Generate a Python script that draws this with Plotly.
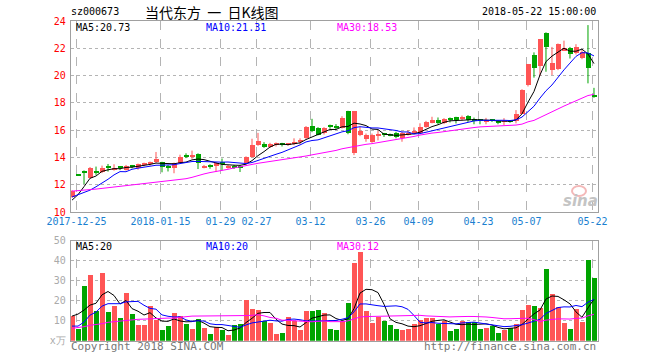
import plotly.graph_objects as go
import pandas as pd

# ---------------- data ----------------
opens = [11.12, 12.68, 13.00, 12.52, 12.95, 12.96, 13.27, 13.13, 13.27, 13.08,
         13.37, 13.25, 13.45, 13.52, 13.64, 13.64, 13.30, 13.25, 13.62, 14.12,
         14.08, 14.24, 13.25, 13.37, 13.34, 13.60, 13.22, 13.32, 13.30, 13.59,
         14.02, 14.88, 15.00, 14.80, 14.92, 15.00, 14.95, 14.95, 15.10, 15.41,
         16.27, 16.17, 15.78, 16.30, 16.26, 16.17, 17.39, 14.34, 15.63, 15.34,
         15.15, 15.60, 15.70, 15.66, 15.76, 15.46, 15.65, 15.85, 15.76, 16.24,
         16.56, 16.73, 16.49, 16.82, 16.93, 16.85, 17.02, 16.72, 16.72, 16.66,
         16.74, 16.66, 16.60, 16.66, 16.66, 17.22, 19.30, 21.50, 20.73, 23.15,
         20.40, 20.46, 21.83, 22.05, 21.63, 21.26, 21.63, 18.50]
highs = [11.60, 12.68, 13.05, 13.30, 13.33, 13.40, 13.52, 13.50, 13.37, 13.45,
         13.45, 13.55, 13.62, 13.70, 14.40, 13.68, 13.45, 13.62, 14.20, 14.30,
         14.50, 14.30, 13.45, 13.50, 13.64, 13.92, 13.45, 13.45, 13.45, 14.08,
         15.37, 15.80, 15.12, 15.07, 15.10, 15.07, 15.05, 15.40, 15.40, 16.30,
         16.83, 16.22, 16.22, 16.41, 16.44, 17.02, 17.42, 17.40, 16.24, 15.75,
         15.75, 15.95, 15.80, 15.75, 15.88, 15.88, 16.00, 16.20, 16.50, 16.68,
         16.98, 16.93, 16.88, 16.93, 16.98, 17.07, 17.10, 16.92, 16.80, 16.90,
         16.80, 16.73, 16.88, 16.73, 17.47, 19.00, 20.85, 21.70, 22.66, 23.17,
         22.10, 22.35, 22.56, 22.10, 22.30, 21.87, 23.70, 19.10]
lows = [11.05, 12.68, 12.05, 12.45, 12.72, 12.85, 12.96, 13.03, 13.07, 13.04,
        13.20, 13.10, 13.35, 13.40, 13.60, 12.91, 12.97, 12.84, 13.60, 13.95,
        13.90, 13.15, 13.20, 13.17, 12.93, 13.05, 13.17, 13.15, 12.93, 13.50,
        13.98, 14.85, 14.70, 14.70, 14.80, 14.80, 14.85, 14.90, 14.95, 15.36,
        15.85, 15.62, 15.68, 16.10, 16.05, 16.12, 15.70, 14.17, 15.56, 15.15,
        15.07, 15.25, 15.50, 15.55, 15.40, 15.15, 15.60, 15.75, 15.70, 16.17,
        16.50, 16.42, 16.44, 16.56, 16.49, 16.70, 16.60, 16.43, 16.43, 16.43,
        16.60, 16.43, 16.38, 16.54, 16.50, 17.20, 19.20, 19.85, 19.99, 20.28,
        20.04, 20.40, 21.80, 21.25, 21.55, 21.20, 19.43, 18.37]
closes = [11.53, 12.68, 12.83, 13.24, 12.91, 13.24, 13.24, 13.25, 13.23, 13.37,
          13.33, 13.50, 13.57, 13.67, 13.86, 13.30, 13.27, 13.57, 14.06, 14.08,
          14.12, 13.58, 13.36, 13.33, 13.60, 13.57, 13.37, 13.29, 13.27, 14.02,
          14.88, 15.20, 14.76, 14.95, 15.00, 14.97, 15.00, 15.12, 15.25, 16.22,
          15.93, 15.68, 16.17, 16.25, 16.22, 16.90, 15.80, 17.39, 15.95, 15.63,
          15.63, 15.65, 15.66, 15.63, 15.51, 15.80, 15.82, 15.90, 16.24, 16.61,
          16.73, 16.49, 16.80, 16.78, 16.73, 16.90, 16.78, 16.68, 16.68, 16.75,
          16.70, 16.56, 16.66, 16.60, 17.22, 18.94, 20.82, 20.58, 22.66, 22.12,
          20.95, 22.30, 22.00, 21.56, 22.12, 21.70, 20.53, 18.48]
volumes = [12.7, 6.0, 27.3, 32.8, 14.8, 33.8, 14.3, 17.3, 11.5, 23.8,
           13.3, 7.8, 7.8, 17.3, 10.7, 5.3, 7.3, 13.8, 12.3, 8.5,
           5.8, 10.8, 6.5, 3.5, 6.8, 5.3, 2.8, 8.2, 8.7, 20.3,
           16.0, 15.3, 10.2, 8.8, 3.3, 4.0, 11.8, 9.8, 5.3, 14.8,
           14.8, 15.3, 13.8, 5.8, 5.7, 10.2, 19.2, 39.2, 44.7, 15.2,
           9.2, 12.0, 10.2, 8.2, 6.2, 5.7, 6.2, 8.7, 10.7, 11.7,
           11.3, 8.3, 10.2, 5.2, 6.2, 10.2, 9.7, 9.3, 6.2, 6.7,
           7.3, 3.8, 5.7, 6.7, 8.7, 15.7, 18.2, 17.7, 16.3, 36.2,
           23.3, 17.2, 9.2, 6.2, 16.2, 9.7, 40.5, 31.5]

# moving-average values before a full window exists
ma5_head = [10.87, 11.27, 11.86, 12.47]
ma10_head = [11.10, 11.25, 11.42, 11.60, 11.85, 12.10, 12.40, 12.72, 12.96]
ma30_head = [11.53, 11.56, 11.58, 11.60, 11.68, 11.73, 11.78, 11.85, 11.90, 11.93,
             11.98, 12.05, 12.10, 12.15, 12.20, 12.22, 12.27, 12.32, 12.40, 12.44,
             12.54, 12.69, 12.79, 12.89, 12.96, 13.03, 13.13, 13.23, 13.33]
vma5_head = [12.3, 13.3, 15.3, 17.8]
vma10_head = [7.3, 7.3, 9.3, 12.8, 14.3, 17.3, 18.5, 18.5, 18.5]
vma30_head = [6.2, 6.5, 7.0, 7.7, 8.0, 8.5, 9.2, 9.5, 9.8, 10.3,
              10.5, 10.7, 10.8, 11.0, 11.2, 11.2, 11.3, 11.3, 11.5, 12.0,
              12.3, 12.3, 12.3, 12.3, 12.3, 12.3, 12.3, 12.3, 12.3]

tick_idx = [1, 15, 25, 31, 40, 50, 58, 68, 76, 87]
tick_text = ['2017-12-25', '2018-01-15', '01-29', '02-27', '03-12',
             '03-26', '04-09', '04-23', '05-07', '05-22']
price_ticks = [10, 12, 14, 16, 18, 20, 22, 24]
vol_ticks = [0, 10, 20, 30, 40, 50]
vol_tick_text = ['x万', '10', '20', '30', '40', '50']

stock_code = 'sz000673'
chart_title = '当代东方\u00a0\u00a0一\u00a0\u00a0日K线图'
stamp = '2018-05-22 15:00:00'
ma_labels = ['MA5:20.73', 'MA10:21.31', 'MA30:18.53']
vma_labels = ['MA5:20', 'MA10:20', 'MA30:12']

# ---------------- styling ----------------
W, H = 660, 360
RED = '#ff5555'
GREEN = '#00a400'
MONO = 'DejaVu Sans Mono, Liberation Mono, monospace'
GRIDC = '#b4b4b4'
BORDER = '#a0a0a0'


def fx(p):
    return p / W


def fy(p):
    return 1 - p / H


def moving(values, n, head):
    s = pd.Series(values, dtype=float).rolling(n).mean()
    s.iloc[:n - 1] = head
    return s.tolist()


n = len(closes)
idx = list(range(n))
up = [c > o for o, c in zip(opens, closes)]
colors = [RED if u else GREEN for u in up]
body_base = [min(o, c) for o, c in zip(opens, closes)]
body_h = [max(abs(c - o), 0.07) for o, c in zip(opens, closes)]

fig = go.Figure()

# wicks
for want, col in ((True, RED), (False, GREEN)):
    wx, wy = [], []
    for i in idx:
        if up[i] == want:
            wx += [i, i, None]
            wy += [lows[i], highs[i], None]
    fig.add_trace(go.Scatter(x=wx, y=wy, mode='lines', line=dict(color=col, width=1),
                             xaxis='x', yaxis='y', hoverinfo='skip', showlegend=False))

# bodies
fig.add_trace(go.Bar(x=idx, y=body_h, base=body_base, width=0.85,
                     marker=dict(color=colors, line=dict(width=0)),
                     xaxis='x', yaxis='y', showlegend=False))

for vals, col in ((moving(closes, 5, ma5_head), 'black'),
                  (moving(closes, 10, ma10_head), '#0000ff'),
                  (moving(closes, 30, ma30_head), '#ff00ff')):
    fig.add_trace(go.Scatter(x=idx, y=vals, mode='lines', line=dict(color=col, width=1),
                             xaxis='x', yaxis='y', showlegend=False))

# volume
fig.add_trace(go.Bar(x=idx, y=volumes, width=0.85,
                     marker=dict(color=colors, line=dict(width=0)),
                     xaxis='x2', yaxis='y2', showlegend=False))
for vals, col in ((moving(volumes, 5, vma5_head), 'black'),
                  (moving(volumes, 10, vma10_head), '#0000ff'),
                  (moving(volumes, 30, vma30_head), '#ff00ff')):
    fig.add_trace(go.Scatter(x=idx, y=vals, mode='lines', line=dict(color=col, width=1),
                             xaxis='x2', yaxis='y2', showlegend=False))

xr = [-0.22, 87.62]
grid_x = [t - 0.25 for t in tick_idx]
xdom = [fx(70.7), fx(597.7)]
common_x = dict(range=xr, domain=xdom, tickmode='array', tickvals=grid_x,
                showgrid=True, gridcolor=GRIDC, griddash='dash', gridwidth=1,
                showline=True, linecolor=BORDER, linewidth=1, mirror=True,
                zeroline=False, ticks='', fixedrange=True, automargin=False)

fig.update_layout(
    width=W, height=H, margin=dict(l=0, r=0, t=0, b=0, autoexpand=False),
    paper_bgcolor='white', plot_bgcolor='white', bargap=0,
    xaxis=dict(**common_x, ticktext=tick_text, anchor='y',
               tickfont=dict(family=MONO, size=10, color='#1a7fd0')),
    yaxis=dict(domain=[fy(212), fy(21)], range=[10, 24], tickmode='array',
               tickvals=price_ticks, ticktext=[str(v) for v in price_ticks],
               showgrid=True, gridcolor=GRIDC, griddash='dot', gridwidth=1,
               showline=True, linecolor=BORDER, linewidth=1, mirror=True,
               zeroline=False, ticks='', ticklabelstandoff=2, automargin=False,
               tickfont=dict(family=MONO, size=10, color='#ff0000'), fixedrange=True),
    xaxis2=dict(**common_x, ticktext=tick_text, anchor='y2', showticklabels=False),
    yaxis2=dict(domain=[fy(340.7), fy(240.7)], range=[0, 50], tickmode='array',
                tickvals=vol_ticks, ticktext=vol_tick_text,
                showgrid=True, gridcolor=GRIDC, griddash='dot', gridwidth=1,
                showline=True, linecolor=BORDER, linewidth=1, mirror=True,
                zeroline=False, ticks='', ticklabelstandoff=2, automargin=False,
                tickfont=dict(family=MONO, size=10, color='#aaaaaa'), fixedrange=True),
)

ann = []


def text(s, x, y, color='black', size=10, family=MONO, xanchor='left', **kw):
    ann.append(dict(text=s, x=fx(x), y=fy(y), xref='paper', yref='paper',
                    xanchor=xanchor, yanchor='middle', showarrow=False,
                    font=dict(family=family, size=size, color=color), **kw))


text(stock_code, 69, 12)
text(chart_title, 212, 12, size=14, family='Noto Sans CJK SC', xanchor='center')
text(stamp, 598, 12, xanchor='right')
text(ma_labels[0], 74, 28)
text(ma_labels[1], 204, 28, color='#0000ff')
text(ma_labels[2], 335, 28, color='#ff00ff')
text(vma_labels[0], 74, 246)
text(vma_labels[1], 204, 246, color='#0000ff')
text(vma_labels[2], 335, 246, color='#ff00ff')
text('Copyright 2018 SINA.COM', 69, 346, color='#777777', size=11)
text('http://finance.sina.com.cn', 598, 346, color='#777777', size=11, xanchor='right')
# watermark
ann.append(dict(text='<b><i>sina</i></b>', x=fx(580), y=fy(201), xref='paper', yref='paper',
                xanchor='center', yanchor='middle', showarrow=False,
                font=dict(family='DejaVu Sans', size=15, color='#c4c4c4')))
fig.update_layout(annotations=ann)
fig.add_shape(type='circle', xref='paper', yref='paper',
              x0=fx(572), x1=fx(586), y0=fy(196), y1=fy(186),
              line=dict(color='#f4b8b8', width=2), fillcolor='rgba(0,0,0,0)')

fig.write_html('out.html')
